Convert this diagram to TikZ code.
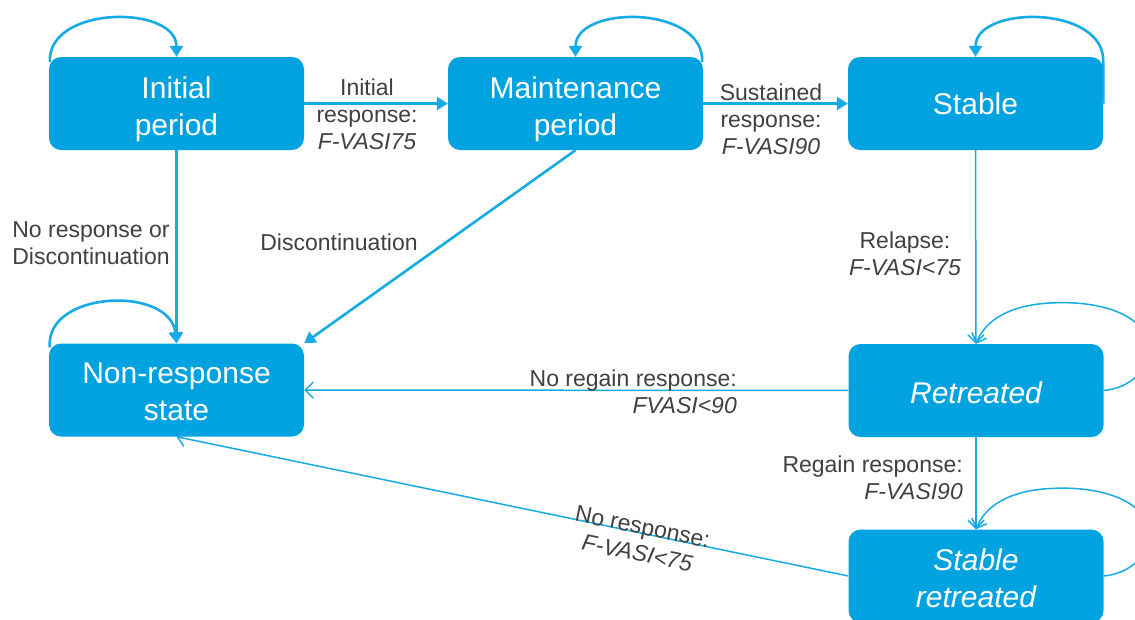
\documentclass[tikz,border=0pt]{standalone}
\usepackage{fontspec}
\setmainfont{Liberation Sans}
\usetikzlibrary{arrows.meta,calc}
\definecolor{boxblue}{RGB}{0,163,224}
\definecolor{lineblue}{RGB}{22,171,229}
\definecolor{labelgray}{RGB}{64,64,64}
\begin{document}
\begin{tikzpicture}[x=1pt,y=-1pt,
  state/.style={fill=boxblue, rounded corners=12pt, minimum width=255pt, minimum height=93pt, inner sep=0pt},
  stext/.style={text=white, font=\fontsize{30}{37}\selectfont, align=center, inner sep=0pt},
  istext/.style={stext, font=\fontsize{30}{37}\selectfont\itshape},
  lbl/.style={text=labelgray, font=\fontsize{23}{27}\selectfont, align=center, inner sep=0pt},
  bigedge/.style={draw=lineblue, line width=2.6pt, -{Triangle[length=11pt,width=13pt]}},
  smalledge/.style={draw=lineblue, line width=1.5pt, -{Straight Barb[length=8pt,width=16pt]}},
]
\useasboundingbox (0,0) rectangle (1135,619);
\clip (0,0) rectangle (1135,619);

% states
\node[state, label={[stext, yshift=-6pt]center:Initial\\period}] (init) at (176.5,103.5) {};
\node[state, label={[stext, yshift=-6pt]center:Maintenance\\period}] (maint) at (575.5,103.5) {};
\node[state, label={[stext]center:Stable}] (stable) at (975.5,103.5) {};
\node[state, label={[stext, yshift=-2pt]center:Non-response\\state}] (nonresp) at (176.5,390) {};
\node[state, label={[istext, yshift=-2pt]center:Retreated}] (ret) at (976,390.5) {};
\node[state, label={[istext, yshift=-2pt]center:Stable\\retreated}] (stabret) at (976,576) {};

% transitions
\draw[bigedge] (init) -- (maint);
\draw[bigedge] (maint) -- (stable);
\draw[bigedge] (init) -- (nonresp);
\draw[bigedge] (maint.south) -- (nonresp.north east);
\draw[smalledge] (stable) -- (ret);
\draw[smalledge] (ret) -- (nonresp);
\draw[smalledge] (ret) -- (stabret);
\draw[smalledge] (stabret.west) -- (nonresp.south);

% self loops (top)
\draw[bigedge] ($(init.north west)+(1,5)$) .. controls ($(init.north west)+(-1,-52)$) and ($(init.north)+(0,-52)$) .. (init.north);
\draw[bigedge] ($(maint.north east)+(-1,5)$) .. controls ($(maint.north east)+(1,-52)$) and ($(maint.north)+(0,-52)$) .. (maint.north);
\draw[bigedge] (stable.east) -- ($(stable.north east)+(0,5)$) .. controls ($(stable.north east)+(2,-52)$) and ($(stable.north)+(0,-52)$) .. (stable.north);
\draw[bigedge] ($(nonresp.north west)+(1,4)$) .. controls ($(nonresp.north west)+(-4,-53)$) and ($(nonresp.north)+(-6,-58)$) .. (nonresp.north);

% self loops (right)
\foreach \n in {ret,stabret}{
  \draw[smalledge] (\n.east)
    .. controls ($(\n.east)+(26.5,-2.5)$) and ($(\n.east)+(46.5,-20.5)$) .. ($(\n.east)+(44.5,-45.5)$)
    .. controls ($(\n.east)+(41.5,-75.5)$) and ($(\n.east)+(-3.5,-90.5)$) .. ($(\n.east)+(-53.5,-87.5)$)
    .. controls ($(\n.east)+(-93.5,-85.5)$) and ($(\n.east)+(-118.5,-70.5)$) .. (\n.north);
}

% labels
\node[lbl] (l1) at (367,114) {Initial\\response:\\\textit{F-VASI75}};
\node[lbl] (l2) at (771,119) {Sustained\\response:\\\textit{F-VASI90}};
\node[lbl] (l3) at (91,243) {No response or\\Discontinuation};
\node[lbl] (l4) at (339,242) {Discontinuation};
\node[lbl] (l5) at (905,254) {Relapse:\\\textit{F-VASI<75}};
\node[lbl, anchor=east, align=right] (l6) at (737,392) {No regain response:\\\textit{FVASI<90}};
\node[lbl, anchor=east, align=right] (l7) at (963,478) {Regain response:\\\textit{F-VASI90}};
\node[lbl, rotate=-11.5] (l8) at (640,540) {No response:\\\textit{F-VASI<75}};
\end{tikzpicture}
\end{document}
